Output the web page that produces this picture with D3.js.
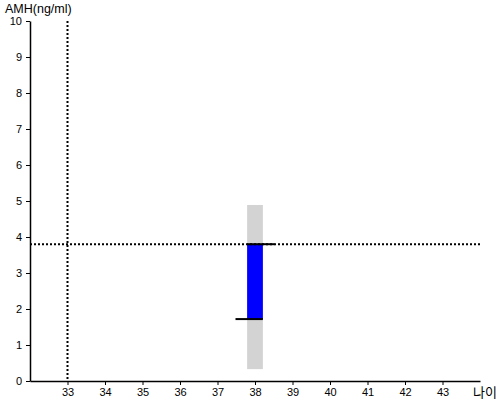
<!DOCTYPE html>
<html>
<head>
<meta charset="utf-8">
<script src="https://cdn.jsdelivr.net/npm/d3@7"></script>
<style>
  body { margin: 0; background: #fff; }
  text { font-family: "Liberation Sans", Arial, sans-serif; }
</style>
</head>
<body>
<div id="chart"></div>
<script>
// data
const xTicks = [33, 34, 35, 36, 37, 38, 39, 40, 41, 42, 43];
const yTicks = [0, 1, 2, 3, 4, 5, 6, 7, 8, 9, 10];
const age = 38;
const rangeLow = 0.33, rangeHigh = 4.89;   // grey band
const barTop = 3.8, barBottom = 1.72;      // blue bar
const refAge = 33, refAmh = 3.8;           // dotted reference lines

const width = 500, height = 400;
const x = d3.scaleLinear().domain([32, 44]).range([30, 480]);
const y = d3.scaleLinear().domain([0, 10]).range([381, 21]);

const svg = d3.select("#chart").append("svg")
  .attr("width", width)
  .attr("height", height);

// grey range
const halfW = 0.21;
svg.append("rect")
  .attr("x", x(age - halfW))
  .attr("y", y(rangeHigh))
  .attr("width", x(age + halfW) - x(age - halfW))
  .attr("height", y(rangeLow) - y(rangeHigh))
  .attr("fill", "#d3d3d3");

// blue bar
svg.append("rect")
  .attr("x", x(age - halfW))
  .attr("y", y(barTop))
  .attr("width", x(age + halfW) - x(age - halfW))
  .attr("height", y(barBottom) - y(barTop))
  .attr("fill", "#0000ff");

// dotted reference lines
svg.append("line")
  .attr("x1", x(32)).attr("x2", x(44))
  .attr("y1", y(refAmh)).attr("y2", y(refAmh))
  .attr("stroke", "#000").attr("stroke-width", 2)
  .attr("stroke-dasharray", "2,2");

svg.append("line")
  .attr("x1", x(refAge)).attr("x2", x(refAge))
  .attr("y1", y(10)).attr("y2", y(0))
  .attr("stroke", "#000").attr("stroke-width", 2)
  .attr("stroke-dasharray", "2,2");

// black ticks on bar ends
svg.append("line")
  .attr("x1", x(age - halfW)).attr("x2", x(age + 0.52))
  .attr("y1", y(barTop)).attr("y2", y(barTop))
  .attr("stroke", "#000").attr("stroke-width", 2);

svg.append("line")
  .attr("x1", x(age - 0.52)).attr("x2", x(age + halfW))
  .attr("y1", y(barBottom)).attr("y2", y(barBottom))
  .attr("stroke", "#000").attr("stroke-width", 2);

// axes
const xAxis = svg.append("g")
  .attr("transform", `translate(0,${y(0)})`)
  .call(d3.axisBottom(x).tickValues(xTicks).tickSize(4).tickSizeOuter(0));
const yAxis = svg.append("g")
  .attr("transform", `translate(${x(32)},0)`)
  .call(d3.axisLeft(y).tickValues(yTicks).tickSize(4).tickSizeOuter(0));

[xAxis, yAxis].forEach(g => {
  g.select(".domain").attr("stroke", "#000").attr("stroke-width", 1.5);
  g.selectAll(".tick line").attr("stroke", "#000");
  g.selectAll(".tick text").attr("fill", "#000")
    .style("font-size", "11px")
    .style("font-family", "'Liberation Sans', Arial, sans-serif");
});
yAxis.selectAll(".tick text").attr("x", -8);

// axis titles
svg.append("text")
  .attr("x", 5).attr("y", 13)
  .style("font-size", "12.5px")
  .text("AMH(ng/ml)");

svg.append("text")
  .attr("x", 473).attr("y", 397)
  .style("font-size", "13px")
  .style("font-family", "'Noto Sans CJK KR', sans-serif")
  .text("나이");
</script>
</body>
</html>
